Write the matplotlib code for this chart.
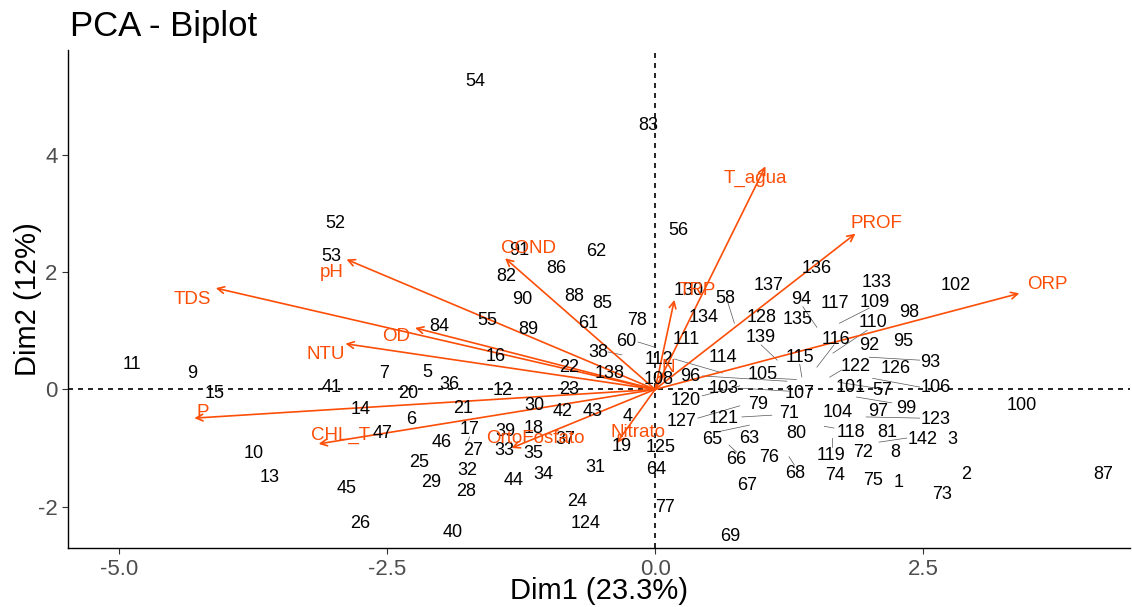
import matplotlib
matplotlib.use("Agg")
import matplotlib.pyplot as plt

plt.rcParams['font.family'] = ['Liberation Sans', 'DejaVu Sans']
plt.rcParams['axes.unicode_minus'] = False

# ---- individuals (label positions, Dim1 / Dim2) ----
ind_labels = ["54","83","52","53","91","62","56","82","86","90","88","85","55","84","89","61","78",
              "60","38","16","22","138","7","5","36","12","23","41","20","11","9","15","14","21",
              "30","42","43","4","6","47","17","39","18","37","19","46","27","33","35","10","13",
              "25","32","29","28","44","34","31","45","26","40","24","124",
              "130","58","137","136","94","134","128","135","139","111","114","115","112","108","96",
              "105","103","107","120","79","127","121","71","65","63","80","104","118","72","119",
              "74","75","68","76","66","67","125","64","77","69",
              "133","102","117","109","98","110","116","92","95","93","122","126","101","57","106",
              "97","99","123","81","100","142","3","8","2","87","1","73"]
ind_x = [-1.68,-0.06,-2.98,-3.02,-1.27,-0.55,0.22,-1.39,-0.92,-1.24,-0.75,-0.49,-1.57,-2.01,-1.18,
         -0.62,-0.17,-0.27,-0.53,-1.49,-0.80,-0.42,-2.53,-2.13,-1.92,-1.42,-0.80,-3.02,-2.30,-4.88,
         -4.32,-4.11,-2.75,-1.79,-1.13,-0.86,-0.58,-0.26,-2.28,-2.54,-1.73,-1.40,-1.13,-0.84,-0.31,
         -1.99,-1.70,-1.41,-1.14,-3.75,-3.60,-2.20,-1.75,-2.09,-1.76,-1.32,-1.04,-0.56,-2.88,-2.75,
         -1.89,-0.73,-0.65,
         0.31,0.66,1.06,1.51,1.36,0.45,0.99,1.33,0.99,0.29,0.63,1.35,0.04,0.03,0.33,
         1.00,0.64,1.35,0.29,0.96,0.25,0.64,1.25,0.53,0.88,1.32,1.70,1.83,1.94,1.64,
         1.68,2.03,1.31,1.06,0.76,0.86,0.05,0.01,0.09,0.70,
         2.07,2.81,1.68,2.05,2.37,2.03,1.69,2.00,2.32,2.57,1.87,2.25,1.83,2.12,2.62,
         2.08,2.34,2.62,2.17,3.42,2.50,2.77,2.24,2.90,4.18,2.27,2.68]
ind_y = [5.25,4.50,2.84,2.27,2.38,2.36,2.71,1.92,2.07,1.54,1.59,1.47,1.17,1.08,1.02,1.12,1.17,
         0.81,0.63,0.56,0.37,0.27,0.27,0.29,0.08,-0.02,0.00,0.03,-0.07,0.42,0.27,-0.07,-0.34,
         -0.32,-0.27,-0.37,-0.37,-0.46,-0.51,-0.75,-0.68,-0.71,-0.66,-0.86,-0.98,-0.90,-1.05,-1.05,
         -1.10,-1.10,-1.51,-1.24,-1.39,-1.59,-1.75,-1.56,-1.46,-1.34,-1.69,-2.29,-2.44,-1.92,-2.29,
         1.69,1.56,1.78,2.07,1.54,1.22,1.22,1.19,0.88,0.86,0.54,0.54,0.51,0.17,0.22,
         0.25,0.02,-0.07,-0.19,-0.25,-0.54,-0.49,-0.41,-0.86,-0.83,-0.76,-0.39,-0.73,-1.07,-1.12,
         -1.47,-1.56,-1.44,-1.17,-1.20,-1.64,-1.00,-1.36,-2.02,-2.51,
         1.83,1.78,1.47,1.49,1.32,1.15,0.85,0.75,0.81,0.46,0.39,0.36,0.03,-0.02,0.03,
         -0.37,-0.32,-0.51,-0.73,-0.27,-0.86,-0.86,-1.08,-1.46,-1.46,-1.59,-1.80]

# ---- leader segments (label side -> individual's point) ----
seg_x0 = [0.18,0.44,1.10,0.68,0.99,1.38,1.35,0.81,0.44,0.40,0.81,0.57,0.69,1.25,1.65,1.58,
          2.00,1.98,1.67,2.00,1.74,2.03,1.72,1.88,1.97,2.09,-0.16,-0.44,-1.73]
seg_y0 = [0.52,0.23,0.19,1.48,0.76,1.41,0.43,0.02,-0.11,-0.49,-0.47,-0.73,-0.95,-1.15,-0.83,-0.63,
          1.39,1.01,0.76,0.55,0.33,0.19,0.12,-0.13,-0.47,-0.90,0.81,0.64,-0.81]
seg_x1 = [0.63,1.23,1.32,0.74,1.14,1.51,1.37,1.25,0.79,0.79,1.09,0.88,0.76,1.30,1.65,1.67,
          1.72,1.66,1.51,2.47,1.63,2.47,2.07,2.21,2.47,2.35,0.00,-0.31,-1.76]
seg_y1 = [0.28,0.14,0.17,1.13,0.50,1.06,0.21,-0.03,0.06,-0.28,-0.44,-0.61,-1.07,-1.29,-0.98,-0.66,
          1.13,0.62,0.38,0.50,0.21,0.04,0.02,-0.23,-0.49,-0.83,0.72,0.59,-0.95]

# ---- variables (arrow tips and their label positions) ----
var_names = ["TDS","pH","COND","OD","NTU","P","CHL_T","OrtoFosfato","Nitrato","T_agua","PROF","ORP","TRP","N"]
var_x = [-4.10,-2.88,-1.40,-2.24,-2.89,-4.30,-3.14,-1.34,-0.36,1.03,1.87,3.40,0.18,0.10]
var_y = [1.73,2.22,2.24,1.05,0.78,-0.49,-0.93,-1.00,-0.92,3.81,2.66,1.64,1.53,0.30]
var_lab_x = [-4.32,-3.02,-1.18,-2.42,-3.07,-4.22,-2.94,-1.12,-0.16,0.94,2.07,3.66,0.39,0.12]
var_lab_y = [1.53,2.00,2.41,0.90,0.59,-0.39,-0.78,-0.83,-0.73,3.61,2.84,1.80,1.69,0.37]

ORANGE = "#FC4E07"

fig = plt.figure(figsize=(11.32, 6.07), dpi=100)
ax = fig.add_axes([0.060, 0.097, 0.938, 0.821])

ax.axhline(0, color="black", linestyle=(0, (3, 3)), linewidth=1.2, zorder=1)
ax.axvline(0, color="black", linestyle=(0, (3, 3)), linewidth=1.2, zorder=1)

for x0, y0, x1, y1 in zip(seg_x0, seg_y0, seg_x1, seg_y1):
    ax.plot([x0, x1], [y0, y1], color="#555555", linewidth=0.5, zorder=1.5)

for lab, x, y in zip(ind_labels, ind_x, ind_y):
    ax.text(x, y, lab, fontsize=13, color="black", ha="center", va="center", zorder=3)

for name, x, y, lx, ly in zip(var_names, var_x, var_y, var_lab_x, var_lab_y):
    ax.annotate("", xy=(x, y), xytext=(0, 0),
                arrowprops=dict(arrowstyle="->", color=ORANGE, lw=1.2,
                                shrinkA=0, shrinkB=0, mutation_scale=12), zorder=2)
    ax.text(lx, ly, name, fontsize=13.5, color=ORANGE, ha="center", va="center", zorder=4)

ax.set_xlim(-5.48, 4.43)
ax.set_ylim(-2.71, 5.80)
ax.set_xticks([-5.0, -2.5, 0.0, 2.5])
ax.set_xticklabels(["-5.0", "-2.5", "0.0", "2.5"])
ax.set_yticks([-2, 0, 2, 4])
ax.tick_params(axis="both", labelsize=16, labelcolor="#4D4D4D", color="#333333", length=4)
for s in ["top", "right"]:
    ax.spines[s].set_visible(False)
for s in ["left", "bottom"]:
    ax.spines[s].set_color("black")
    ax.spines[s].set_linewidth(1.0)

ax.set_xlabel("Dim1 (23.3%)", fontsize=21, labelpad=-2)
ax.set_ylabel("Dim2 (12%)", fontsize=21, labelpad=-3)
fig.text(0.062, 0.957, "PCA - Biplot", fontsize=25, ha="left", va="center")

fig.savefig("out.png", dpi=100)
